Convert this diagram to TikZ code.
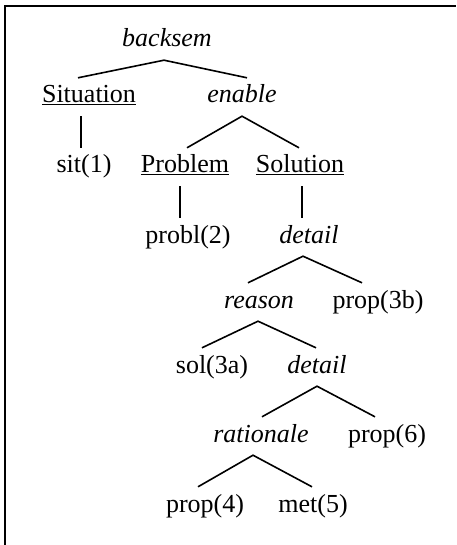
\documentclass[tikz,border=0pt]{standalone}
\usepackage{fontspec}
\setmainfont{Liberation Serif}
\begin{document}
\begin{tikzpicture}[x=1pt,y=-1pt,
  lbl/.style={anchor=base,inner sep=0pt,text height=25pt,text depth=13pt,
    font=\fontsize{26}{30}\selectfont},
  rel/.style={lbl,font=\fontsize{26}{30}\selectfont\itshape},
  edge/.style={line width=1.6pt}]
\useasboundingbox (0,0) rectangle (456,545);
% frame (only top and left sides fall inside the page)
\draw[line width=2pt] (5,545) -- (5,6) -- (456,6);

% tree labels
\node[rel] (bk)  at (167,47)  {backsem};
\node[lbl] (sit) at (89,103)  {\underline{Situation}};
\node[rel] (en)  at (242,103) {enable};
\node[lbl] (s1)  at (84,173)  {sit(1)};
\node[lbl] (pb)  at (185,173) {\underline{Problem}};
\node[lbl] (so)  at (300,173) {\underline{Solution}};
\node[lbl] (p2)  at (188,243) {probl(2)};
\node[rel] (d1)  at (309,243) {detail};
\node[rel] (re)  at (259,308) {reason};
\node[lbl] (p3b) at (378,308) {prop(3b)};
\node[lbl] (s3a) at (212,373) {sol(3a)};
\node[rel] (d2)  at (317,373) {detail};
\node[rel] (ra)  at (261,442) {rationale};
\node[lbl] (p6)  at (387,442) {prop(6)};
\node[lbl] (p4)  at (205,512) {prop(4)};
\node[lbl] (m5)  at (313,512) {met(5)};

% branches
\draw[edge] ([xshift=-11pt]sit.north) -- ([xshift=-3pt]bk.south) -- ([xshift=5pt]en.north);
\draw[edge] ([xshift=-8pt]sit.south) -- ([xshift=-3pt]s1.north);
\draw[edge] ([xshift=2pt]pb.north) -- (en.south) -- ([xshift=-1pt]so.north);
\draw[edge] ([xshift=-5pt]pb.south) -- ([xshift=-8pt]p2.north);
\draw[edge] ([xshift=2pt]so.south) -- ([xshift=-7pt]d1.north);
\draw[edge] ([xshift=-11pt]re.north) -- ([xshift=-6pt]d1.south) -- ([xshift=-16pt]p3b.north);
\draw[edge] ([xshift=-10pt]s3a.north) -- ([xshift=-1pt]re.south) -- ([xshift=-1pt]d2.north);
\draw[edge] ([xshift=1pt]ra.north) -- (d2.south) -- ([xshift=-12pt]p6.north);
\draw[edge] ([xshift=-7pt]p4.north) -- ([xshift=-8pt]ra.south) -- ([xshift=-1pt]m5.north);
\end{tikzpicture}
\end{document}
